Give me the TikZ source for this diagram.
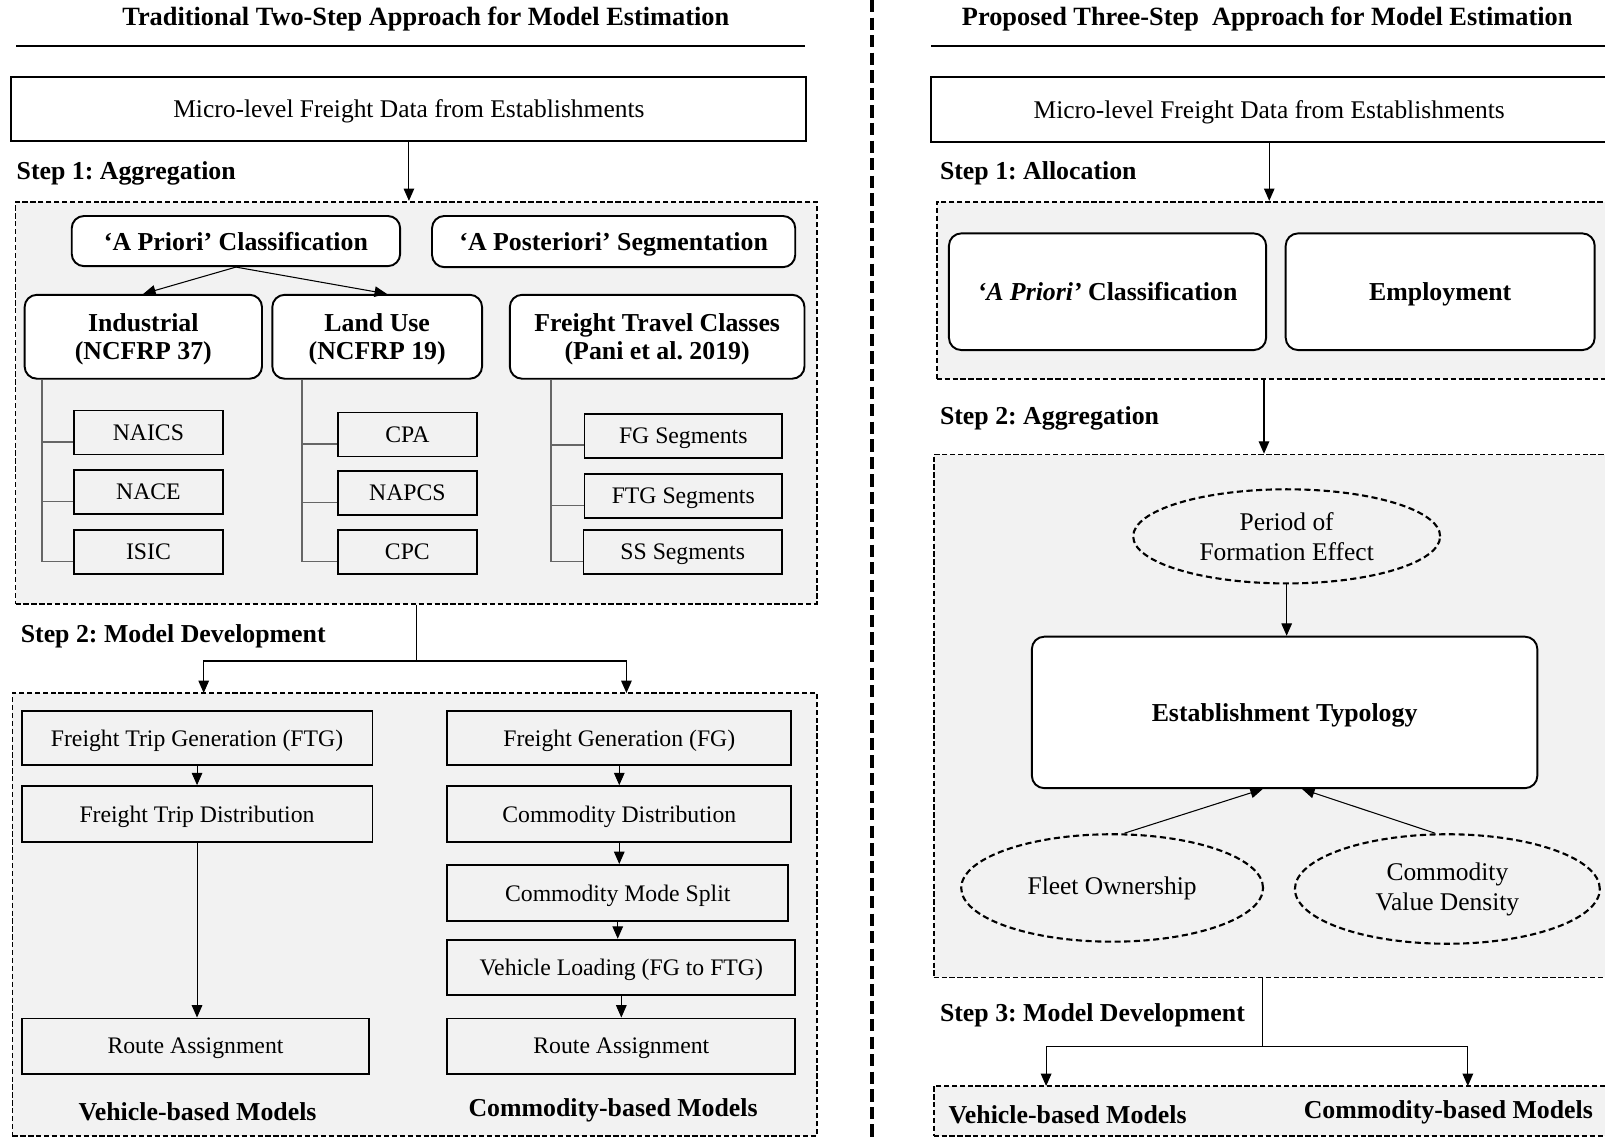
\documentclass[tikz,border=0pt]{standalone}
\usepackage{fontspec}
\setmainfont{Liberation Serif}
\usetikzlibrary{arrows.meta,shapes.geometric}
\definecolor{panelgray}{HTML}{F2F2F2}
\newcommand\pxu{0.5824pt}
\frenchspacing

\begin{document}
\begin{tikzpicture}[x=0.02047cm,y=-0.02047cm,
	font=\fontsize{14.5}{17}\selectfont,
	sz/.style 2 args={minimum width=#1*\pxu,minimum height=#2*\pxu},
	box/.style={draw,line width=1.1pt,inner sep=0pt,align=center,text depth=0pt,font=\fontsize{13.5}{16}\selectfont},
	rbox/.style={draw,line width=1.1pt,inner sep=0pt,align=center,text depth=0pt,rounded corners=7pt,fill=white,font=\fontsize{14.7}{16}\selectfont\bfseries},
	panel/.style={draw,fill=panelgray,line width=1pt,dash pattern=on 3pt off 1.5pt,inner sep=0pt},
	oval/.style={ellipse,draw,line width=1.2pt,dash pattern=on 3.5pt off 2pt,inner sep=0pt,align=center,font=\fontsize{14.5}{17}\selectfont},
	steplbl/.style={anchor=west,inner sep=0pt,font=\fontsize{14.7}{17}\selectfont\bfseries},
	lbl/.style={inner sep=0pt,font=\fontsize{14.7}{17}\selectfont\bfseries},
	head/.style={inner sep=0pt,font=\fontsize{15}{18}\selectfont\bfseries},
	arr/.style={-{Triangle[length=7pt,width=6pt]},line width=0.6pt},
	branch/.style={line width=0.9pt,black!60},
	sep/.style={line width=2.4pt,dash pattern=on 7pt off 3pt}]
	\useasboundingbox (0,0) rectangle (1568,1112);

	% traditional approach
	\node[head] (title1) at (416,19) {Traditional Two-Step Approach for Model Estimation};
	\draw[line width=1.3pt] (16,45) -- (786,45);
	\node[box,sz={777}{63},font=\fontsize{14.5}{17}\selectfont] (data1) at (399.5,106.5) {Micro-level Freight Data from Establishments};
	\node[steplbl] (s1a) at (16,169) {Step 1: Aggregation};
	\node[panel,sz={783}{393}] (agg1) at (406.5,393.5) {};
	\draw[arr] (data1.south) -- (data1.south |- agg1.north);
	\node[rbox,sz={321}{49}] (apriori) at (230.5,235.5) {`A Priori' Classification};
	\node[rbox,sz={355}{50}] (apost) at (599.5,236) {`A Posteriori' Segmentation};
	\node[rbox,sz={232}{82}] (indus) at (140,329) {Industrial\\(NCFRP 37)};
	\node[rbox,sz={205}{82}] (landuse) at (368.5,329) {Land Use\\(NCFRP 19)};
	\node[rbox,sz={288}{82}] (ftc) at (642,329) {Freight Travel Classes\\(Pani et al. 2019)};
	\draw[arr] (apriori.south) -- (indus.north);
	\draw[arr] (apriori.south) -- ([xshift=5.5pt]landuse.north);

	\node[box,sz={146}{43}] (naics) at (145,422.5) {NAICS};
	\node[box,sz={146}{43}] (nace) at (145,480.5) {NACE};
	\node[box,sz={146}{43}] (isic) at (145,539) {ISIC};
	\node[box,sz={136}{43}] (cpa) at (398,424.5) {CPA};
	\node[box,sz={136}{43}] (napcs) at (398,481.5) {NAPCS};
	\node[box,sz={136}{43}] (cpc) at (398,539) {CPC};
	\node[box,sz={193}{43}] (fgseg) at (667.5,425.5) {FG Segments};
	\node[box,sz={193}{43}] (ftgseg) at (667.5,484.5) {FTG Segments};
	\node[box,sz={194}{43}] (ssseg) at (667,539) {SS Segments};
	\foreach \c in {naics,nace,isic}
		\draw[branch] ([xshift=10.5pt]indus.south west) |- ([yshift=-5.5pt]\c.west);
	\foreach \c in {cpa,napcs,cpc}
		\draw[branch] ([xshift=17.5pt]landuse.south west) |- ([yshift=-5.5pt]\c.west);
	\foreach \c in {fgseg,ftgseg,ssseg}
		\draw[branch] ([xshift=24pt]ftc.south west) |- ([yshift=-5.5pt]\c.west);

	\node[steplbl] (s2a) at (20,622) {Step 2: Model Development};
	\node[panel,sz={786}{433}] (mod1) at (405,893.5) {};
	\coordinate (inL) at (199,677);
	\coordinate (inR) at (612,677);
	\draw[arr] (agg1.south) -- ++(0,55) -| (inL);
	\draw[arr] (agg1.south) -- ++(0,55) -| (inR);

	\node[box,sz={343}{52}] (ftg) at (192.5,721) {Freight Trip Generation (FTG)};
	\node[box,sz={343}{55}] (ftd) at (192.5,795.5) {Freight Trip Distribution};
	\node[box,sz={340}{54}] (ra1) at (191,1022) {Route Assignment};
	\node[box,sz={336}{52}] (fg) at (605,721) {Freight Generation (FG)};
	\node[box,sz={336}{55}] (cd) at (605,795.5) {Commodity Distribution};
	\node[box,sz={333}{55}] (cms) at (603.5,872.5) {Commodity Mode Split};
	\node[box,sz={340}{54}] (vl) at (607,945) {Vehicle Loading (FG to FTG)};
	\node[box,sz={340}{54}] (ra2) at (607,1022) {Route Assignment};
	\draw[arr] (ftg.south) -- (ftg.south |- ftd.north);
	\draw[arr] (ftd.south) -- (ftd.south |- ra1.north);
	\foreach \a/\b in {fg/cd,cd/cms,cms/vl,vl/ra2}
		\draw[arr] (\a.south) -- (\a.south |- \b.north);
	\node[lbl] (veh1) at (193,1086) {Vehicle-based Models};
	\node[lbl] (com1) at (599,1085) {Commodity-based Models};

	\draw[sep] (852,0) -- (852,1112);

	% proposed approach
	\node[head] (title2) at (1238,19) {Proposed Three-Step\ \ Approach for Model Estimation};
	\draw[line width=1.3pt] (910,45) -- (1568,45);
	\node[box,sz={662}{64},font=\fontsize{14.5}{17}\selectfont] (data2) at (1240,107) {Micro-level Freight Data from Establishments};
	\node[steplbl] (s1b) at (918,169) {Step 1: Allocation};
	\node[panel,sz={660}{173}] (alloc) at (1245,283.5) {};
	\draw[arr] (data2.south) -- (data2.south |- alloc.north);
	\node[rbox,sz={310}{114}] (apriori2) at (1082,285) {\textit{`A Priori'} Classification};
	\node[rbox,sz={302}{114}] (employ) at (1407,285) {Employment};

	\node[steplbl] (s2b) at (918,409) {Step 2: Aggregation};
	\node[panel,sz={663}{511}] (agg2) at (1243.5,699.5) {};
	\draw[arr] ([xshift=-3pt]data2.south |- alloc.south) -- ([xshift=-3pt]data2.south |- agg2.north);
	\node[oval,sz={300}{92}] (period) at (1257,524) {Period of\\Formation Effect};
	\node[rbox,sz={494}{148}] (typo) at (1255,696) {Establishment Typology};
	\node[oval,sz={295}{105}] (fleet) at (1086.5,867.5) {Fleet Ownership};
	\node[oval,sz={298}{107}] (cvd) at (1414,868.5) {Commodity\\Value Density};
	\draw[arr] (period.south) -- (period.south |- typo.north);
	\draw[arr] ([xshift=7pt]fleet.north) -- ([xshift=-12.5pt]typo.south);
	\draw[arr] ([xshift=-7pt]cvd.north) -- ([xshift=10pt]typo.south);

	\node[steplbl] (s3b) at (918,992) {Step 3: Model Development};
	\node[panel,sz={663}{49}] (mod2) at (1243.5,1085.5) {};
	\coordinate (outL) at (1022,1061);
	\coordinate (outR) at (1434,1061);
	\draw[arr] ([xshift=-6pt]agg2.south) -- ++(0,67) -| (outL);
	\draw[arr] ([xshift=-6pt]agg2.south) -- ++(0,67) -| (outR);
	\node[lbl] (veh2) at (1043,1089) {Vehicle-based Models};
	\node[lbl] (com2) at (1415,1087) {Commodity-based Models};
\end{tikzpicture}
\end{document}
